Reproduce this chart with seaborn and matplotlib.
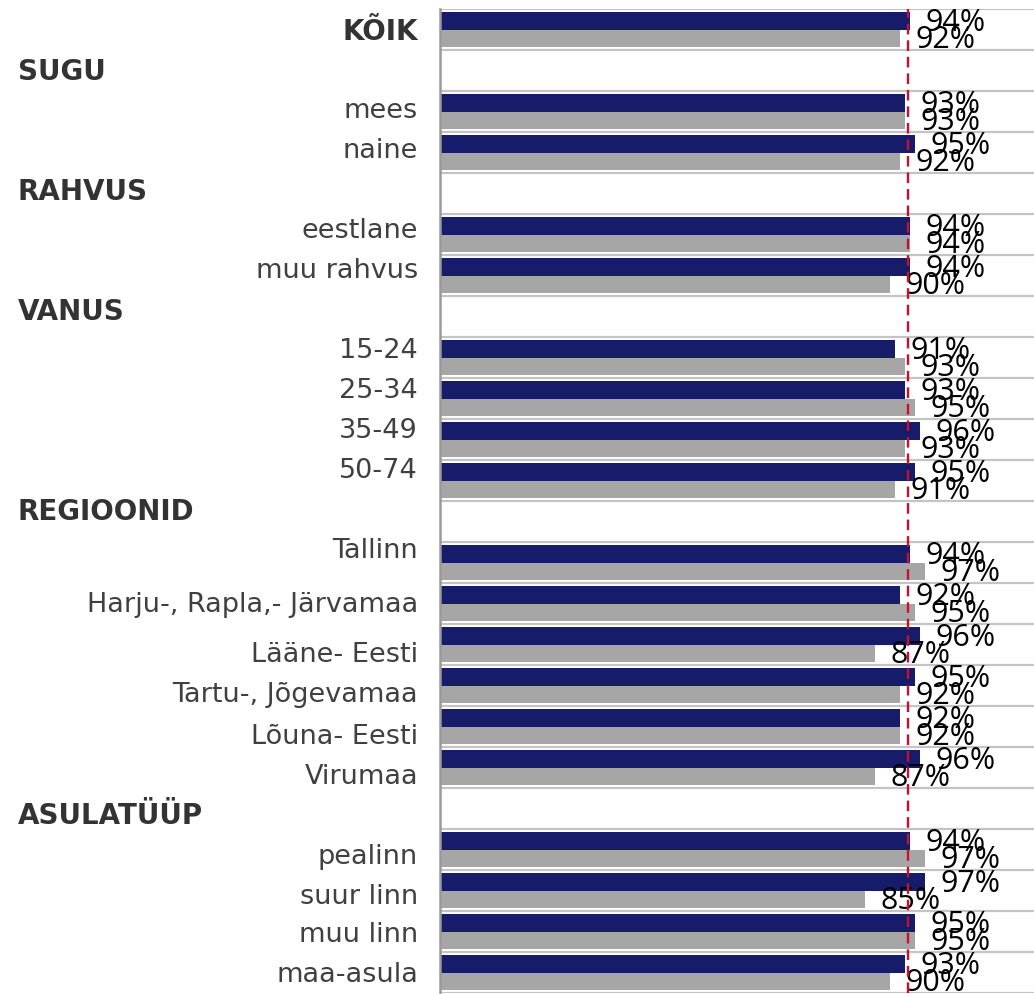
import numpy as np
import pandas as pd
import matplotlib
matplotlib.use("Agg")
import matplotlib.pyplot as plt
import matplotlib.transforms as mtransforms
import seaborn as sns

# Andmed (loetud pildilt)
kategooriad = ["KÕIK", "SUGU", "mees", "naine", "RAHVUS", "eestlane", "muu rahvus",
               "VANUS", "15-24", "25-34", "35-49", "50-74", "REGIOONID", "Tallinn",
               "Harju-, Rapla,- Järvamaa", "Lääne- Eesti", "Tartu-, Jõgevamaa",
               "Lõuna- Eesti", "Virumaa", "ASULATÜÜP", "pealinn", "suur linn",
               "muu linn", "maa-asula"]
pealkirjad = ["SUGU", "RAHVUS", "VANUS", "REGIOONID", "ASULATÜÜP"]
seeria_nimed = ["Seeria 1", "Seeria 2"]
seeria_1 = [94, np.nan, 93, 95, np.nan, 94, 94, np.nan, 91, 93, 96, 95, np.nan,
            94, 92, 96, 95, 92, 96, np.nan, 94, 97, 95, 93]
seeria_2 = [92, np.nan, 93, 92, np.nan, 94, 90, np.nan, 93, 95, 93, 91, np.nan,
            97, 95, 87, 92, 92, 87, np.nan, 97, 85, 95, 90]
keskmine = 93.5

# siltide vertikaalne nihe pikslites (Exceli paigutus)
sildi_nihe = [2, 1, -1, -1, -2, -3, -4, -5, -6, -7, -8, -9, -10, -11,
              1, 11, 10, 10, 9, 7, 7, 6, 4, 3]

df = pd.DataFrame({
    "grupp": kategooriad * 2,
    "seeria": [seeria_nimed[0]] * len(kategooriad) + [seeria_nimed[1]] * len(kategooriad),
    "vaartus": seeria_1 + seeria_2,
}).dropna()

sns.set_style("white")
plt.rcParams["font.family"] = ["DejaVu Sans"]

fig = plt.figure(figsize=(10.34, 9.94), dpi=100)
ax = fig.add_axes([440 / 1034, 1 / 994, 1 - 440 / 1034, 984 / 994])

sns.barplot(data=df, y="grupp", x="vaartus", hue="seeria", order=kategooriad,
            hue_order=seeria_nimed, palette=["#161c6a", "#a6a6a6"],
            orient="h", width=0.86, ax=ax, legend=False, saturation=1,
            linewidth=0, edgecolor="none")

ax.set_xlim(0, 118.8)
ax.set_ylim(len(kategooriad) - 0.5, -0.5)
ax.set_xlabel("")
ax.set_ylabel("")
ax.set_xticks([])

# vaheread
for i in range(len(kategooriad) + 1):
    ax.axhline(i - 0.5, color="#c4c4c4", lw=1.6, zorder=0.5)

for s in ["top", "right", "bottom"]:
    ax.spines[s].set_visible(False)
ax.spines["left"].set_color("#9a9a9a")
ax.spines["left"].set_linewidth(1.8)

ax.set_yticks(range(len(kategooriad)))
ax.set_yticklabels([])
ax.tick_params(axis="y", length=0)

# sildid
for i, k in enumerate(kategooriad):
    nihe = mtransforms.ScaledTranslation(0, -sildi_nihe[i] / 100, fig.dpi_scale_trans)
    if k in pealkirjad:
        trans = mtransforms.blended_transform_factory(fig.transFigure, ax.transData)
        ax.text(18 / 1034, i, k, transform=trans + nihe, ha="left", va="center",
                fontsize=20, fontweight="bold", color="#333333")
    else:
        trans = mtransforms.blended_transform_factory(ax.transAxes, ax.transData)
        nihe = mtransforms.ScaledTranslation(-22 / 100, -sildi_nihe[i] / 100,
                                             fig.dpi_scale_trans)
        ax.text(0, i, k, transform=trans + nihe, ha="right", va="center",
                fontsize=20 if k == "KÕIK" else 19.5,
                fontweight="bold" if k == "KÕIK" else "normal",
                color="#333333" if k == "KÕIK" else "#404040")

# väärtused
for cont in ax.containers:
    for bar, v in zip(cont, cont.datavalues):
        if np.isnan(v):
            continue
        y = bar.get_y() + bar.get_height() / 2
        ax.annotate(f"{v:.0f}%", (v, y), xytext=(11, -1.5), textcoords="offset points",
                    ha="left", va="center", fontsize=22, family="Open Sans",
                    color="black")

ax.axvline(keskmine, color="#c8102e", lw=1.7, dashes=(4.5, 2.5), zorder=6)

fig.savefig("out.png", dpi=100)
